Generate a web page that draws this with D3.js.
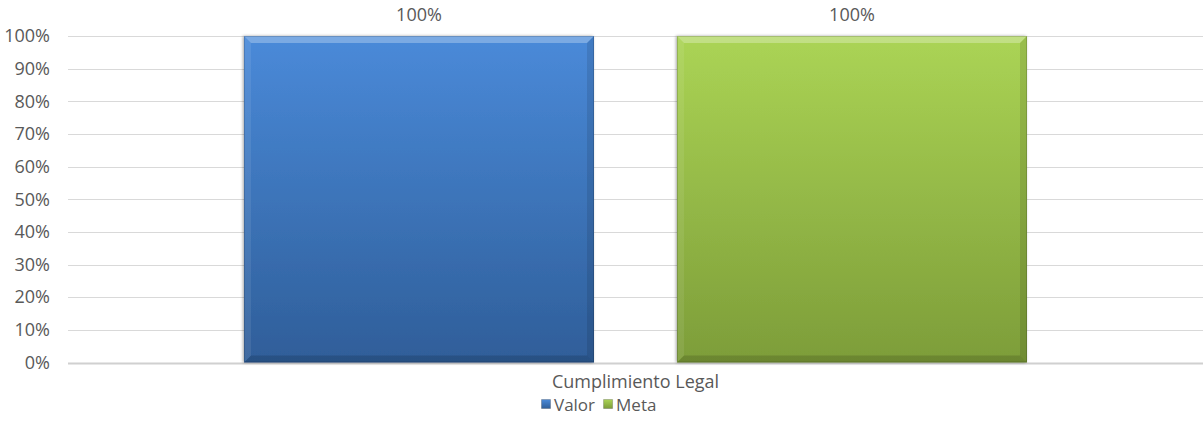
<!DOCTYPE html>
<html><head><meta charset="utf-8">
<script src="https://cdn.jsdelivr.net/npm/d3@7"></script>
<style>body{margin:0;background:#fff}svg{display:block}text{font-family:"Open Sans","Liberation Sans",sans-serif;fill:#595959}</style>
</head><body><svg id="c" width="1203" height="421"></svg>
<script>
const categories = ["Cumplimiento Legal"];
const seriesNames = ["Valor", "Meta"];
const valor = [1.00];
const meta = [1.00];
const yTicks = [0,0.1,0.2,0.3,0.4,0.5,0.6,0.7,0.8,0.9,1.0];
const colors = {Valor:["#4a8ad9","#2f5e99"], Meta:["#abd455","#7d9d39"]};

const svg = d3.select("#c");
const m = {l:68, r:0, t:36, b:58};
const W = 1203, H = 421;
const FS = "18px";
const x0 = d3.scaleBand().domain(categories).range([m.l, W-m.r]).paddingInner(0).paddingOuter(0.2248);
const x1 = d3.scaleBand().domain(seriesNames).range([0, x0.bandwidth()]).paddingInner(0.1917);
const y = d3.scaleLinear().domain([0,1]).range([H-m.b-0.5, m.t]);

const defs = svg.append("defs");
seriesNames.forEach(s=>{
  const g = defs.append("linearGradient").attr("id","g"+s).attr("x1",0).attr("y1",0).attr("x2",0).attr("y2",1);
  g.append("stop").attr("offset","0%").attr("stop-color",colors[s][0]);
  g.append("stop").attr("offset","100%").attr("stop-color",colors[s][1]);
});
const f = defs.append("filter").attr("id","sh").attr("x","-5%").attr("y","-5%").attr("width","110%").attr("height","110%");
f.append("feDropShadow").attr("dx",-1).attr("dy",0).attr("stdDeviation",1.5).attr("flood-color","#000").attr("flood-opacity",0.35);

// gridlines
svg.append("g").selectAll("line").data(yTicks).join("line")
  .attr("x1",m.l).attr("x2",W-m.r).attr("y1",d=>Math.round(y(d))+0.5).attr("y2",d=>Math.round(y(d))+0.5)
  .attr("stroke",d=>d===0?"#d0d0d0":"#d9d9d9").attr("stroke-width",d=>d===0?2:1);

// y axis labels
const ax = d3.axisLeft(y).tickValues(yTicks).tickFormat(d3.format(".0%")).tickSize(0).tickPadding(18);
const ag = svg.append("g").attr("transform",`translate(${m.l},0)`).call(ax);
ag.select(".domain").remove();
ag.selectAll("text").style("font-size",FS).attr("fill","#595959");

const data = categories.map((c,i)=>({c, vals:[{s:"Valor",v:valor[i]},{s:"Meta",v:meta[i]}]}));
const cg = svg.append("g").selectAll("g").data(data).join("g").attr("transform",d=>`translate(${x0(d.c)},0)`);
const bars = cg.selectAll("g.bar").data(d=>d.vals).join("g").attr("class","bar");
bars.each(function(d){
  const g = d3.select(this);
  const bx = x1(d.s), bw = x1.bandwidth(), by = y(d.v), bh = y(0)-y(d.v);
  const e = 7;
  g.append("rect").attr("x",bx).attr("y",by).attr("width",bw).attr("height",bh).attr("fill",`url(#g${d.s})`).attr("filter","url(#sh)");
  g.append("path").attr("d",`M${bx},${by}H${bx+bw}L${bx+bw-e},${by+e}H${bx+e}Z`).attr("fill","#fff").attr("opacity",0.28);
  g.append("path").attr("d",`M${bx},${by}L${bx+e},${by+e}V${by+bh-e}L${bx},${by+bh}Z`).attr("fill","#fff").attr("opacity",0.08);
  g.append("path").attr("d",`M${bx+bw},${by}L${bx+bw-e},${by+e}V${by+bh-e}L${bx+bw},${by+bh}Z`).attr("fill","#000").attr("opacity",0.1);
  g.append("path").attr("d",`M${bx},${by+bh}L${bx+e},${by+bh-e}H${bx+bw-e}L${bx+bw},${by+bh}Z`).attr("fill","#000").attr("opacity",0.14);
  g.append("rect").attr("x",bx+0.5).attr("y",by+0.5).attr("width",bw-1).attr("height",bh-1).attr("fill","none").attr("stroke","#000").attr("stroke-opacity",0.15);
  g.append("text").attr("x",bx+bw/2).attr("y",by-15).attr("text-anchor","middle").style("font-size",FS).text(d3.format(".0%")(d.v));
});

// category label
svg.append("g").selectAll("text").data(categories).join("text")
  .attr("x",d=>x0(d)+x0.bandwidth()/2).attr("y",388).attr("text-anchor","middle").style("font-size",FS).text(d=>d);

// legend
const lg = svg.append("g").attr("transform","translate(541,0)");
let lx = 0;
seriesNames.forEach(s=>{
  lg.append("rect").attr("x",lx+0.5).attr("y",399.5).attr("width",9).attr("height",9).attr("fill",`url(#g${s})`).attr("stroke","#000").attr("stroke-opacity",0.2);
  const t = lg.append("text").attr("x",lx+13).attr("y",411).style("font-size","17px").text(s);
  lx += 13 + t.node().getComputedTextLength() + 8;
});
</script></body></html>
